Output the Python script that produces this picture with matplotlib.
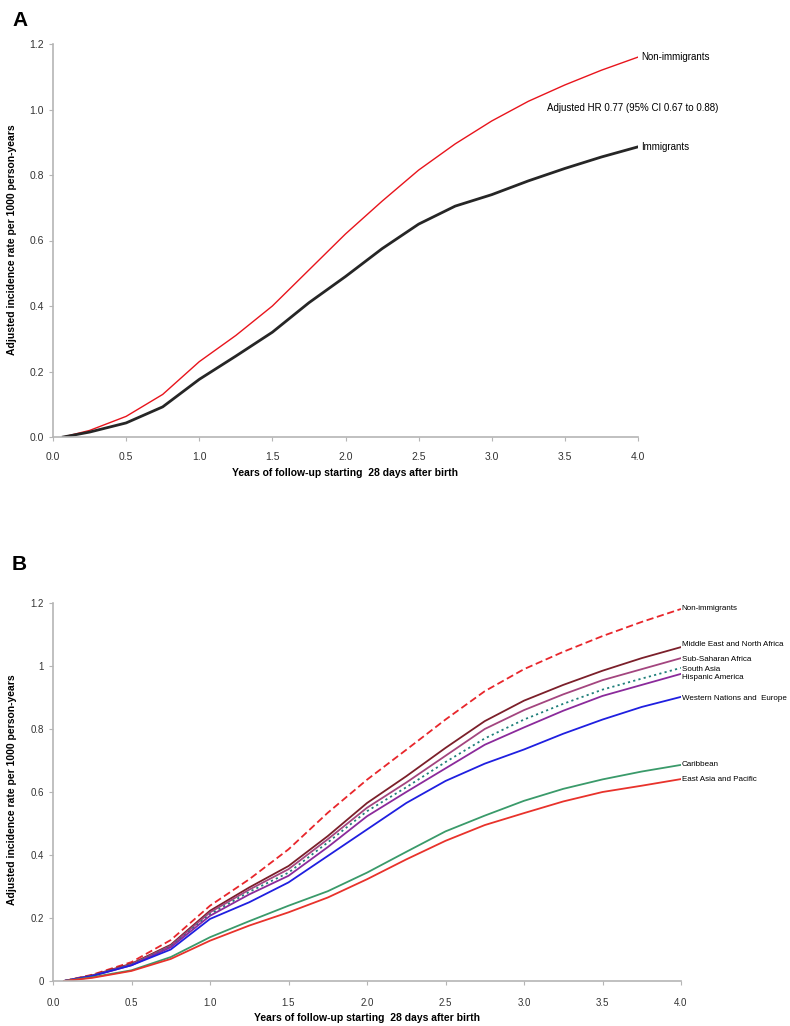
import matplotlib
matplotlib.use("Agg")
import matplotlib.pyplot as plt

plt.rcParams['font.family'] = ['Liberation Sans', 'DejaVu Sans']

years = [0.07, 0.25, 0.5, 0.75, 1.0, 1.25, 1.5, 1.75, 2.0, 2.25, 2.5, 2.75, 3.0, 3.25, 3.5, 3.75, 4.0]

# --- panel A ---
a_non_immigrants = [0.0, 0.02, 0.063, 0.13, 0.23, 0.31, 0.40, 0.51, 0.62, 0.72, 0.815, 0.895, 0.965, 1.025, 1.075, 1.12, 1.16]
a_immigrants = [0.0, 0.015, 0.043, 0.092, 0.176, 0.247, 0.32, 0.41, 0.49, 0.575, 0.65, 0.705, 0.74, 0.782, 0.82, 0.855, 0.886]

# --- panel B ---
b_groups = ['Non-immigrants', 'Middle East and North Africa', 'Sub-Saharan Africa', 'South Asia',
            'Hispanic America', 'Western Nations and  Europe', 'Caribbean', 'East Asia and Pacific']
b_values = {
    'Non-immigrants': [0.0, 0.02, 0.06, 0.13, 0.239, 0.323, 0.418, 0.534, 0.639, 0.734, 0.83, 0.92, 0.99, 1.045, 1.095, 1.14, 1.181],
    'Middle East and North Africa': [0.0, 0.018, 0.055, 0.115, 0.223, 0.297, 0.365, 0.46, 0.565, 0.65, 0.74, 0.825, 0.89, 0.94, 0.985, 1.025, 1.06],
    'Sub-Saharan Africa': [0.0, 0.017, 0.053, 0.112, 0.218, 0.29, 0.355, 0.45, 0.55, 0.63, 0.715, 0.8, 0.86, 0.91, 0.955, 0.99, 1.025],
    'South Asia': [0.0, 0.017, 0.052, 0.11, 0.212, 0.283, 0.344, 0.44, 0.539, 0.615, 0.695, 0.77, 0.83, 0.88, 0.925, 0.96, 0.994],
    'Hispanic America': [0.0, 0.016, 0.05, 0.107, 0.207, 0.275, 0.334, 0.425, 0.523, 0.60, 0.675, 0.75, 0.805, 0.858, 0.905, 0.94, 0.975],
    'Western Nations and  Europe': [0.0, 0.016, 0.05, 0.1, 0.197, 0.25, 0.313, 0.397, 0.481, 0.565, 0.635, 0.69, 0.735, 0.785, 0.83, 0.87, 0.902],
    'Caribbean': [0.0, 0.012, 0.034, 0.076, 0.139, 0.19, 0.239, 0.285, 0.344, 0.41, 0.475, 0.525, 0.572, 0.61, 0.64, 0.665, 0.686],
    'East Asia and Pacific': [0.0, 0.01, 0.032, 0.07, 0.128, 0.176, 0.218, 0.265, 0.323, 0.386, 0.445, 0.495, 0.533, 0.57, 0.60, 0.62, 0.641],
}
b_colors = ['#e8262b', '#7b1f2a', '#a3457f', '#1f7f7a', '#8b2a9b', '#1f1fe0', '#3a9a6a', '#e8322b']
b_styles = [(0, (4, 2)), '-', '-', (0, (1.2, 1.8)), '-', '-', '-', '-']
b_label_y = [1.181, 1.067, 1.022, 0.990, 0.963, 0.898, 0.686, 0.641]

ylabel = 'Adjusted incidence rate per 1000 person-years'
xlabel = 'Years of follow-up starting  28 days after birth'
grey = '#b5b5b5'


def style_axes(ax):
    for s in ['top', 'right']:
        ax.spines[s].set_visible(False)
    for s in ['left', 'bottom']:
        ax.spines[s].set_color(grey)
        ax.spines[s].set_linewidth(1.2)
    ax.tick_params(direction='out', length=3, color=grey, labelsize=7.5, labelcolor='#333333')
    ax.set_xlim(0, 4)
    ax.set_ylim(0, 1.2)
    ax.set_xticks([i * 0.5 for i in range(9)])
    ax.set_xticklabels(['%.1f' % (i * 0.5) for i in range(9)])


fig = plt.figure(figsize=(7.9, 10.26), dpi=100)

# ---------- Panel A ----------
axA = fig.add_axes([53 / 790, 1 - 437 / 1026, 585 / 790, 393 / 1026])
style_axes(axA)
axA.set_yticks([0, 0.2, 0.4, 0.6, 0.8, 1.0, 1.2])
axA.set_yticklabels(['0.0', '0.2', '0.4', '0.6', '0.8', '1.0', '1.2'])
axA.plot(years, a_non_immigrants, color='#e8141c', lw=1.0)
axA.plot(years, a_immigrants, color='#262626', lw=2.0)
axA.text(4.02, a_non_immigrants[-1], 'Non-immigrants', fontsize=7, va='center', ha='left')
axA.text(4.02, a_immigrants[-1], 'Immigrants', fontsize=7, va='center', ha='left')
axA.text(3.38, 1.005, 'Adjusted HR 0.77 (95% CI 0.67 to 0.88)', fontsize=7, va='center', ha='left')
axA.tick_params(axis='x', pad=8)

fig.text(345 / 790, 1 - 473 / 1026, xlabel, fontsize=7.5, fontweight='bold', ha='center', va='center')
fig.text(12 / 790, 1 - 240 / 1026, ylabel, fontsize=7.5, fontweight='bold', ha='center', va='center', rotation=90)
fig.text(12 / 790, 1 - 20 / 1026, 'A', fontsize=15, fontweight='bold', ha='left', va='center')

# ---------- Panel B ----------
axB = fig.add_axes([53 / 790, 1 - 981 / 1026, 628 / 790, 378 / 1026])
style_axes(axB)
axB.set_yticks([0, 0.2, 0.4, 0.6, 0.8, 1.0, 1.2])
axB.set_yticklabels(['0', '0.2', '0.4', '0.6', '0.8', '1', '1.2'])
axB.tick_params(labelsize=7)
axB.tick_params(axis='x', pad=9)
for name, color, ls, ly in zip(b_groups, b_colors, b_styles, b_label_y):
    axB.plot(years, b_values[name], color=color, lw=1.3, linestyle=ls)
    axB.text(4.005, ly, name, fontsize=5.8, va='center', ha='left')

fig.text(367 / 790, 1 - 1018 / 1026, xlabel, fontsize=7.5, fontweight='bold', ha='center', va='center')
fig.text(12 / 790, 1 - 790 / 1026, ylabel, fontsize=7.5, fontweight='bold', ha='center', va='center', rotation=90)
fig.text(12 / 790, 1 - 565 / 1026, 'B', fontsize=15, fontweight='bold', ha='left', va='center')

fig.savefig('out.png', dpi=100)
